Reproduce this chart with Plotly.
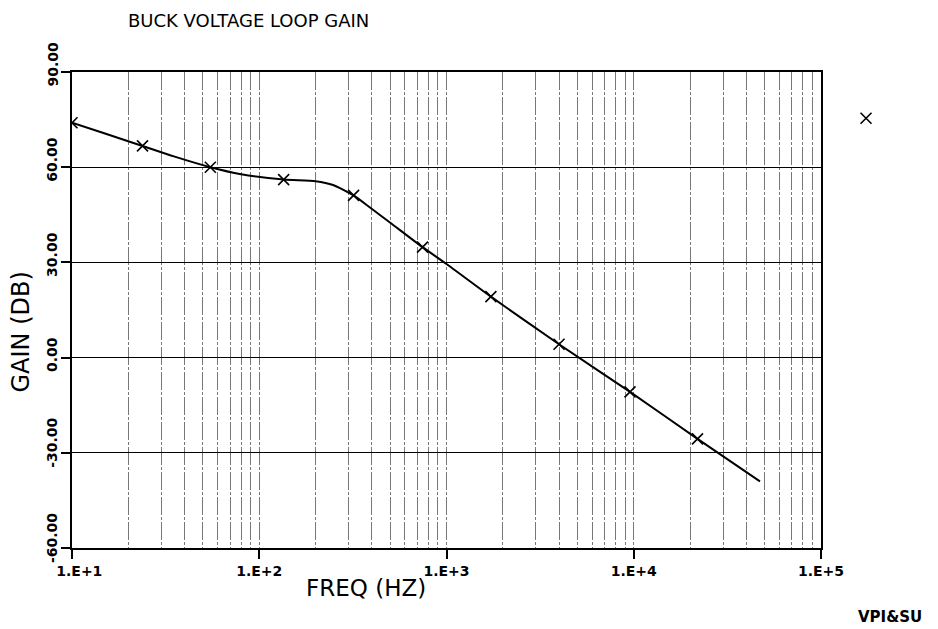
import plotly.graph_objects as go

# ---- data ----
curve_freq = [10, 15, 23.8, 35, 54.8, 80, 135, 200, 248, 319, 392, 501, 745,
              1000, 1726, 3990, 9550, 21900, 47200]
curve_gain = [74.0, 70.6, 66.7, 63.4, 60.0, 57.8, 56.1, 55.6, 54.4, 51.1, 47.2,
              42.5, 34.8, 29.5, 19.2, 4.2, -10.8, -25.6, -39.0]

marker_freq = [10, 23.8, 54.8, 135, 319, 745, 1726, 3990, 9550, 21900]
marker_gain = [74.0, 66.7, 60.0, 56.1, 51.1, 34.8, 19.2, 4.2, -10.8, -25.6]

x_tickvals = [10, 100, 1000, 10000, 100000]
x_ticktext = ["\u00a0\u00a0\u00a01.E+1", "1.E+2", "1.E+3", "1.E+4", "1.E+5"]
y_tickvals = [-60, -30, 0, 30, 60, 90]
y_ticktext = ["-60.00", "-30.00", "0.00", "30.00", "60.00", "90.00"]

title_text = "BUCK VOLTAGE LOOP GAIN"
x_title = "FREQ (HZ)"
y_title = "GAIN (DB)"
credit = "VPI&SU"

FONT = "DejaVu Sans"

minor_vals = [m * 10 ** k for k in range(1, 5) for m in range(2, 10)]

fig = go.Figure()
fig.add_trace(go.Scatter(
    x=curve_freq, y=curve_gain, mode="lines",
    line=dict(color="black", width=2, shape="spline", smoothing=0.6),
    showlegend=False, hoverinfo="skip"))
fig.add_trace(go.Scatter(
    x=marker_freq, y=marker_gain, mode="markers", name=" ",
    marker=dict(symbol="x-thin", size=11, line=dict(color="black", width=1.6)),
    showlegend=True))

grid_style = dict(gridcolor="#777777", gridwidth=1, griddash="18px,2px,3px,2px")

fig.update_xaxes(
    type="log", range=[1, 5],
    showline=True, linecolor="black", linewidth=1.5, mirror=True,
    ticks="outside", ticklen=9, tickwidth=1.5, tickcolor="black",
    tickvals=x_tickvals, ticktext=x_ticktext,
    tickfont=dict(family=FONT, size=14, color="black", weight="bold"),
    showgrid=True, **grid_style,
    minor=dict(tickvals=minor_vals, showgrid=True, ticks="", **grid_style),
    zeroline=False)
fig.update_yaxes(
    range=[-60, 90],
    showline=True, linecolor="black", linewidth=1.5, mirror=True,
    ticks="outside", ticklen=9, tickwidth=1.5, tickcolor="black",
    tickvals=y_tickvals, showticklabels=False,
    showgrid=True, gridcolor="black", gridwidth=1, zeroline=False)

annotations = []
for v, t in zip(y_tickvals, y_ticktext):
    annotations.append(dict(
        x=0, xref="paper", y=v, yref="y", text=t, showarrow=False,
        textangle=-90, xanchor="right", yanchor="bottom", xshift=-10, yshift=-17,
        font=dict(family=FONT, size=14, color="black", weight="bold")))
annotations += [
    dict(x=0.235, xref="paper", y=1, yref="paper", yshift=52, text=title_text,
         showarrow=False, xanchor="center", yanchor="middle",
         font=dict(family=FONT, size=18, color="black")),
    dict(x=0.3925, xref="paper", y=0, yref="paper", yshift=-40, text=x_title,
         showarrow=False, xanchor="center", yanchor="middle",
         font=dict(family=FONT, size=23, color="black")),
    dict(x=0, xref="paper", xshift=-51.5, y=0.4538, yref="paper", text=y_title,
         textangle=-90, showarrow=False, xanchor="center", yanchor="middle",
         font=dict(family=FONT, size=24, color="black")),
    dict(x=1.092, xref="paper", y=0, yref="paper", yshift=-69, text=credit,
         showarrow=False, xanchor="center", yanchor="middle",
         font=dict(family=FONT, size=15, color="black", weight="bold")),
]

# the page body adds an 8px offset, so margins are shifted to compensate
fig.update_layout(
    width=938, height=629,
    margin=dict(l=64, r=125, t=64, b=89),
    paper_bgcolor="white", plot_bgcolor="white",
    showlegend=True,
    legend=dict(x=1.0334, y=0.9334, xanchor="left", yanchor="top",
                bgcolor="rgba(0,0,0,0)", borderwidth=0,
                font=dict(family=FONT, size=12, color="black")),
    annotations=annotations,
)

fig.write_html("out.html")
